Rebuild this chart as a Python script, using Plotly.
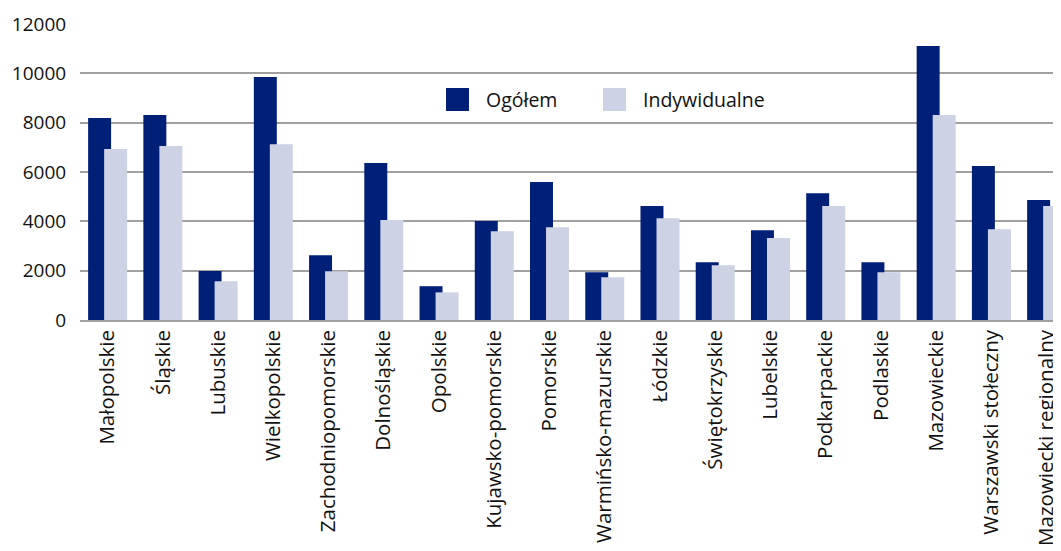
import plotly.graph_objects as go

regions = ["Małopolskie", "Śląskie", "Lubuskie", "Wielkopolskie", "Zachodniopomorskie",
           "Dolnośląskie", "Opolskie", "Kujawsko-pomorskie", "Pomorskie",
           "Warmińsko-mazurskie", "Łódzkie", "Świętokrzyskie", "Lubelskie",
           "Podkarpackie", "Podlaskie", "Mazowieckie", "Warszawski stołeczny",
           "Mazowiecki regionalny"]
ogolem = [8190, 8310, 1990, 9850, 2630, 6360, 1370, 4010, 5590,
          1940, 4620, 2340, 3640, 5140, 2340, 11110, 6240, 4860]
indywidualne = [6930, 7050, 1570, 7130, 1980, 4050, 1120, 3600, 3760,
                1730, 4130, 2220, 3320, 4620, 1940, 8310, 3680, 4620]
y_ticks = [0, 2000, 4000, 6000, 8000, 10000, 12000]

DARK = "#001f77"
LIGHT = "#cdd2e4"

fig = go.Figure()
fig.add_trace(go.Bar(x=regions, y=ogolem, name="Ogółem", marker_color=DARK,
                     marker_line_width=0, offset=-0.353, width=0.416, showlegend=False))
fig.add_trace(go.Bar(x=regions, y=indywidualne, name="Indywidualne", marker_color=LIGHT,
                     marker_line_width=0, offset=-0.063, width=0.416, showlegend=False))

# page body has an 8px margin; plot area spans x 80..1061, y 24..320 in the viewport
W, H = 1061, 551
PL, PT, PW, PH = 80, 24, 981, 296

# legend drawn as shapes + text
legend_items = [("Ogółem", DARK, 446), ("Indywidualne", LIGHT, 603)]
for name, color, px in legend_items:
    fig.add_shape(type="rect", xref="paper", yref="paper",
                  x0=(px - PL) / PW, x1=(px + 23 - PL) / PW,
                  y0=(PT + PH - 111) / PH, y1=(PT + PH - 88) / PH,
                  fillcolor=color, line_width=0, layer="above")
    fig.add_annotation(xref="paper", yref="paper", x=(px + 38 - PL) / PW,
                       y=(PT + PH - 99.5) / PH, text=name, showarrow=False,
                       xanchor="left", yanchor="middle",
                       font=dict(family="Open Sans", size=19.5, color="#111111"))

fig.update_layout(
    width=W, height=H,
    margin=dict(l=PL - 8, r=8, t=PT - 8, b=H - (PT - 8) - PH, pad=0),
    plot_bgcolor="white", paper_bgcolor="white",
    barmode="overlay",
    font=dict(family="Open Sans", color="#111111"),
    xaxis=dict(type="category", range=[-0.5, 17.26], tickangle=-90,
               showgrid=False, automargin=False, ticks="",
               tickfont=dict(family="Open Sans", size=20.5, color="#111111"),
               showline=True, linecolor="#a0a0a0", linewidth=1.5),
    yaxis=dict(range=[0, 12000], tickvals=y_ticks, tickformat="d", showgrid=True,
               gridcolor="#a0a0a0", gridwidth=1.5, zeroline=False,
               automargin=False, ticks="outside", ticklen=9, tickcolor="white",
               tickfont=dict(family="Open Sans", size=19, color="#111111")),
)

fig.write_html("out.html")
